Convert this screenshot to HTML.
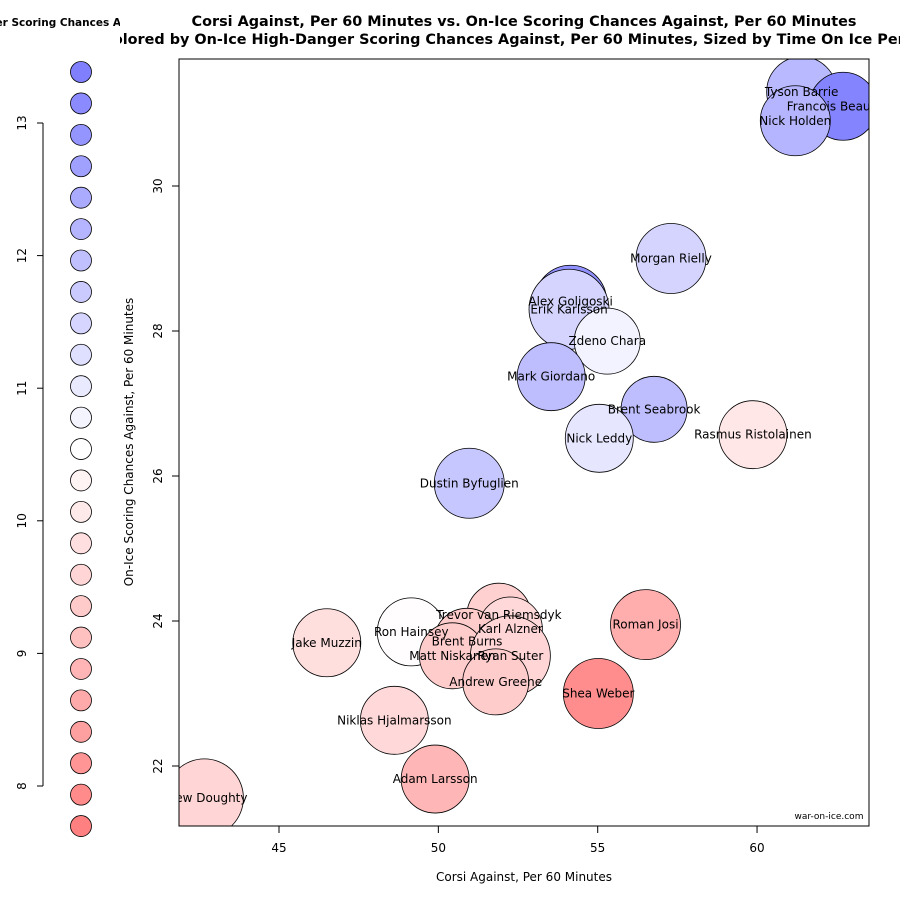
<!DOCTYPE html>
<html><head><meta charset="utf-8"><style>
html,body{margin:0;padding:0;background:#fff;}
svg{display:block;font-family:"DejaVu Sans","Liberation Sans",sans-serif;}
</style></head><body>
<svg id="chart" width="900" height="900" viewBox="0 0 900 900">
<defs><clipPath id="lc"><rect x="0" y="0" width="120" height="40"/></clipPath>
<clipPath id="tc"><rect x="120" y="0" width="780" height="60"/></clipPath>
<clipPath id="pc"><rect x="179" y="59" width="690" height="767"/></clipPath></defs>
<rect width="900" height="900" fill="#fff"/>
<text x="121" y="26" text-anchor="end" font-size="10.5" font-weight="bold" clip-path="url(#lc)">On-Ice High-Danger Scoring Chances A</text>
<text x="524" y="26" text-anchor="middle" font-size="14.4" font-weight="bold">Corsi Against, Per 60 Minutes vs. On-Ice Scoring Chances Against, Per 60 Minutes</text>
<text x="516" y="44" text-anchor="middle" font-size="14.4" font-weight="bold" clip-path="url(#tc)">Colored by On-Ice High-Danger Scoring Chances Against, Per 60 Minutes, Sized by Time On Ice Per 60</text>
<g id="legend"></g>
<g id="axes"></g>
<g id="marks" clip-path="url(#pc)"></g>
<g id="labels" clip-path="url(#pc)"></g>
<rect x="179" y="59" width="690" height="767" fill="none" stroke="#000"/>
<text x="829" y="819" text-anchor="middle" font-size="9">war-on-ice.com</text>
<text x="524" y="881" text-anchor="middle" font-size="12">Corsi Against, Per 60 Minutes</text>
<text transform="translate(133,442) rotate(-90)" text-anchor="middle" font-size="12">On-Ice Scoring Chances Against, Per 60 Minutes</text>
</svg>
<script>
const players=["Tyson Barrie","Francois Beaucage","Nick Holden","Morgan Rielly","Alex Goligoski","Erik Karlsson","Zdeno Chara","Mark Giordano","Brent Seabrook","Nick Leddy","Rasmus Ristolainen","Dustin Byfuglien","Trevor van Riemsdyk","Karl Alzner","Ron Hainsey","Jake Muzzin","Roman Josi","Brent Burns","Matt Niskanen","Ryan Suter","Andrew Greene","Shea Weber","Niklas Hjalmarsson","Adam Larsson","Drew Doughty"];
const corsi=[61.4,62.7,61.2,57.3,54.15,54.1,55.3,53.54,56.77,55.05,59.87,50.97,51.9,52.26,49.15,46.5,56.5,50.9,50.44,52.26,51.8,55.02,48.62,49.9,42.66];
const chances=[31.3,31.1,30.9,29.0,28.41,28.3,27.86,27.37,26.92,26.52,26.57,25.9,24.08,23.89,23.85,23.7,23.95,23.72,23.52,23.52,23.16,23.0,22.63,21.82,21.56];
const hdca=[12.1,13.3,12.2,11.5,13.0,11.5,10.8,12.0,12.0,11.1,10.0,11.8,9.5,9.7,10.5,9.8,8.7,9.4,9.4,9.6,9.4,8.0,9.7,8.9,9.6];
const toi=[35,34,35,35,36,40,33,34,33,34,34,35,32,32,34,34,35,33,33,40,33,35,34,34,39];
const xTicks=[45,50,55,60];
const yTicks=[22,24,26,28,30];
const legTicks=[8,9,10,11,12,13];

const NS="http://www.w3.org/2000/svg";
function mk(t,a,p){const e=document.createElementNS(NS,t);for(const k in a)e.setAttribute(k,a[k]);p.appendChild(e);return e;}
const X=v=>279+(v-45)*31.87;
const Y=v=>186-(v-30)*72.5;
const LY=v=>123-(v-13)*132.6;
const HMIN=7.7,HMAX=13.38;
function col(h){let t=(h-(HMIN+HMAX)/2)/((HMAX-HMIN)/2);t=Math.max(-1,Math.min(1,t));
 if(t>=0){const c=Math.round(255-127*t);return `rgb(${c},${c},255)`;}
 const c=Math.round(255+127*t);return `rgb(255,${c},${c})`;}
const axes=document.getElementById('axes');
const leg=document.getElementById('legend');
for(let i=0;i<25;i++){const v=HMAX-i*(HMAX-HMIN)/24;
 const c=mk('circle',{cx:81,cy:72+i*31.42,r:10.5,fill:col(v),stroke:'#000','stroke-width':0.8},leg);
 
 }
mk('line',{x1:43,x2:43,y1:LY(13),y2:LY(8),stroke:'#000'},axes);
legTicks.forEach(v=>{mk('line',{x1:37,x2:43,y1:LY(v),y2:LY(v),stroke:'#000'},axes);
 const t=mk('text',{transform:`translate(26,${LY(v)}) rotate(-90)`,'text-anchor':'middle','font-size':12},axes);t.textContent=v;
 
 });
xTicks.forEach(v=>{mk('line',{x1:X(v),x2:X(v),y1:826,y2:833,stroke:'#000'},axes);
 const t=mk('text',{x:X(v),y:852,'text-anchor':'middle','font-size':12},axes);t.textContent=v;
 
 });
yTicks.forEach(v=>{mk('line',{x1:172,x2:179,y1:Y(v),y2:Y(v),stroke:'#000'},axes);
 const t=mk('text',{transform:`translate(162,${Y(v)}) rotate(-90)`,'text-anchor':'middle','font-size':12},axes);t.textContent=v;
 
 });
const marks=document.getElementById('marks'),labs=document.getElementById('labels');
players.forEach((p,i)=>{
 const c=mk('circle',{cx:X(corsi[i]),cy:Y(chances[i]),r:toi[i],fill:col(hdca[i]),stroke:'#000','stroke-width':0.8},marks);
 
 
 const t=mk('text',{x:X(corsi[i]),y:Y(chances[i])+4,'text-anchor':'middle','font-size':12},labs);t.textContent=p;
 
 });
</script>
</body></html>
